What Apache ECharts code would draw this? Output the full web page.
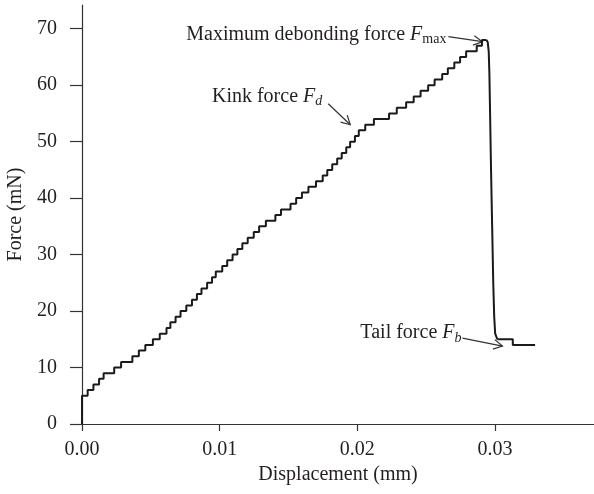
<!DOCTYPE html>
<html><head><meta charset="utf-8">
<script src="https://cdn.jsdelivr.net/npm/echarts@6/dist/echarts.min.js"></script>
<style>html,body{margin:0;padding:0;background:#fff}#c{width:594px;height:494px}</style>
</head><body><div id="c"></div>
<script>
// Staircase loading part: displacement (mm) where each force level starts, and force (mN)
const stairX = [0, 0, 0.00041, 0.00083, 0.00124, 0.00157, 0.00234, 0.00284, 0.00366, 0.00413, 0.00460,
  0.00515, 0.00565, 0.00614, 0.00642, 0.00680, 0.00716, 0.00758, 0.00799, 0.00835, 0.00868,
  0.00909, 0.00945, 0.00972, 0.01019, 0.01055, 0.01094, 0.01129, 0.01165, 0.01204, 0.01248,
  0.01287, 0.01336, 0.01405, 0.01446, 0.01515, 0.01556, 0.01598, 0.01645, 0.01700, 0.01749,
  0.01782, 0.01818, 0.01854, 0.01887, 0.01920, 0.01948, 0.01983, 0.02011, 0.02058, 0.02121,
  0.02231, 0.02287, 0.02355, 0.02410, 0.02460, 0.02515, 0.02562, 0.02617, 0.02658, 0.02705,
  0.02747, 0.02791, 0.02868, 0.02906, 0.02939];
const stairY = [0, 5, 6, 7, 8, 9, 10, 11, 12, 13, 14,
  15, 16, 17, 18, 19, 20, 21, 22, 23, 24,
  25, 26, 27, 28, 29, 30, 31, 32, 33, 34,
  35, 36, 37, 38, 39, 40, 41, 42, 43, 44,
  45, 46, 47, 48, 49, 50, 51, 52, 53, 54,
  55, 56, 57, 58, 59, 60, 61, 62, 63, 64,
  65, 66, 67, 68, 68];
// Debonding drop
const dropX = [0.02939, 0.02948, 0.02955, 0.02960, 0.02965, 0.02972, 0.02980, 0.02988, 0.02995, 0.03002, 0.03018];
const dropY = [68, 67.6, 66, 62, 55, 45, 35, 25, 19, 16, 15];
// Tail
const tailX = [0.03018, 0.03130, 0.03292];
const tailY = [15, 14, 14];

const xTicks = ['0.00', '0.01', '0.02', '0.03'];
const yTicks = ['0', '10', '20', '30', '40', '50', '60', '70'];

const zip = (a, b) => a.map((v, i) => [v, b[i]]);
const FONT = '"Liberation Serif", "DejaVu Serif", serif';
const FS = 20;
const TXT = '#231f20';
const LINE = '#1a1a1a';

const chart = echarts.init(document.getElementById('c'), null, {renderer: 'canvas'});
const option = {
  animation: false,
  backgroundColor: '#fff',
  grid: {left: 82, right: 0, top: 5, bottom: 70, containLabel: false, outerBoundsMode: 'none'},
  xAxis: {
    type: 'value', min: 0, max: 0.0372, interval: 0.01,
    name: 'Displacement (mm)', nameLocation: 'middle', nameGap: 38,
    nameTextStyle: {fontFamily: FONT, fontSize: FS, color: TXT},
    axisLine: {onZero: false, lineStyle: {color: '#333', width: 1.2}},
    axisTick: {length: 7, inside: false, lineStyle: {color: '#333', width: 1.2}},
    axisLabel: {fontFamily: FONT, fontSize: FS, color: TXT, margin: 16, showMaxLabel: false,
      formatter: v => xTicks[Math.round(v / 0.01)] ?? ''},
    splitLine: {show: false}
  },
  yAxis: {
    type: 'value', min: 0, max: 74.2, interval: 10,
    name: 'Force (mN)', nameLocation: 'middle', nameGap: 55,
    nameTextStyle: {fontFamily: FONT, fontSize: FS, color: TXT},
    axisLine: {show: true, lineStyle: {color: '#333', width: 1.2}},
    axisTick: {show: true, length: 12, lineStyle: {color: '#333', width: 1.2}},
    axisLabel: {fontFamily: FONT, fontSize: FS, color: TXT, margin: 25, showMaxLabel: false,
      formatter: v => yTicks[Math.round(v / 10)] ?? ''},
    splitLine: {show: false}
  },
  series: [
    {type: 'line', step: 'end', data: zip(stairX, stairY), symbol: 'none',
      lineStyle: {color: LINE, width: 2}},
    {type: 'line', data: zip(dropX, dropY), symbol: 'none',
      lineStyle: {color: LINE, width: 2, join: 'round'}},
    {type: 'line', step: 'end', data: zip(tailX, tailY), symbol: 'none',
      lineStyle: {color: LINE, width: 2}}
  ]
};
chart.setOption(option);

// Annotations: tip in data coords, tail and text anchor as pixel offsets from the tip
const annotations = [
  {main: 'Maximum debonding force ', sub: 'max', subItalic: false, tip: [0.02909, 67.7], tail: [-34, -5], text: [-36, -7]},
  {main: 'Kink force ', sub: 'd', subItalic: true, tip: [0.01949, 53.0], tail: [-22, -21], text: [-28, -28]},
  {main: 'Tail force ', sub: 'b', subItalic: true, tip: [0.03055, 13.8], tail: [-40, -8], text: [-41, -13]}
];
const graphics = [];
annotations.forEach(a => {
  const p = chart.convertToPixel({gridIndex: 0}, a.tip);
  const t = [p[0] + a.tail[0], p[1] + a.tail[1]];
  graphics.push({type: 'line', shape: {x1: t[0], y1: t[1], x2: p[0], y2: p[1]},
    style: {stroke: '#333', lineWidth: 1.2}});
  const ang = Math.atan2(p[1] - t[1], p[0] - t[0]);
  const L = 10, spread = 0.5;
  const h1 = [p[0] - L * Math.cos(ang - spread), p[1] - L * Math.sin(ang - spread)];
  const h2 = [p[0] - L * Math.cos(ang + spread), p[1] - L * Math.sin(ang + spread)];
  graphics.push({type: 'polyline', shape: {points: [h1, p, h2]},
    style: {stroke: '#333', lineWidth: 1.2, fill: null}});
  graphics.push({type: 'text', x: p[0] + a.text[0], y: p[1] + a.text[1],
    style: {
      text: '{n|' + a.main + '}{i|F}{s|' + a.sub + '}',
      align: 'right', verticalAlign: 'middle',
      rich: {
        n: {fontFamily: FONT, fontSize: FS, fill: TXT, lineHeight: 24, verticalAlign: 'middle'},
        i: {fontFamily: FONT, fontSize: FS, fontStyle: 'italic', fill: TXT, lineHeight: 24, verticalAlign: 'middle'},
        s: {fontFamily: FONT, fontSize: 14, fontStyle: a.subItalic ? 'italic' : 'normal', fill: TXT, lineHeight: 13, verticalAlign: 'bottom'}
      }
    }});
});
chart.setOption({graphic: graphics});
</script>
</body></html>
